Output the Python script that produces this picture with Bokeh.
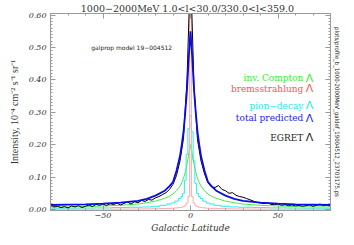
import math
from bokeh.plotting import figure
from bokeh.models import Range1d, LinearAxis, Label, FixedTicker, PrintfTickFormatter
from bokeh.embed import file_html
from bokeh.resources import INLINE

# ---- data -------------------------------------------------------------
model_lat = [-80, -70, -60, -50, -40, -30, -25, -20, -15, -12, -10, -8, -6, -5, -4, -3, -2, -1,
             0, 1, 2, 3, 4, 5, 6, 8, 10, 12, 15, 20, 25, 30, 40, 50, 60, 70, 80]
inv_compton = [0.008, 0.008, 0.009, 0.011, 0.013, 0.017, 0.021, 0.026, 0.034, 0.041, 0.048, 0.058,
               0.072, 0.083, 0.097, 0.115, 0.140, 0.170, 0.200, 0.170, 0.140, 0.115, 0.097, 0.083,
               0.072, 0.058, 0.048, 0.041, 0.034, 0.026, 0.021, 0.017, 0.013, 0.011, 0.009, 0.008, 0.008]
bremss = [0.0005, 0.0006, 0.0008, 0.001, 0.0012, 0.0016, 0.002, 0.0025, 0.003, 0.0035, 0.004, 0.005,
          0.006, 0.007, 0.009, 0.012, 0.020, 0.040, 0.700, 0.040, 0.020, 0.012, 0.009, 0.007,
          0.006, 0.005, 0.004, 0.0035, 0.003, 0.0025, 0.002, 0.0016, 0.0012, 0.001, 0.0008, 0.0006, 0.0005]
pion = [0.004, 0.004, 0.0045, 0.005, 0.006, 0.007, 0.008, 0.010, 0.013, 0.017, 0.020, 0.026,
        0.034, 0.040, 0.050, 0.090, 0.170, 0.250, 0.290, 0.240, 0.150, 0.080, 0.050, 0.040,
        0.034, 0.026, 0.020, 0.017, 0.013, 0.010, 0.008, 0.007, 0.006, 0.005, 0.0045, 0.004, 0.004]
total = [0.014, 0.015, 0.016, 0.018, 0.021, 0.027, 0.033, 0.043, 0.057, 0.072, 0.085, 0.120,
         0.165, 0.200, 0.240, 0.300, 0.370, 0.470, 0.550, 0.470, 0.370, 0.300, 0.240, 0.200,
         0.165, 0.120, 0.085, 0.072, 0.057, 0.043, 0.033, 0.027, 0.021, 0.018, 0.016, 0.015, 0.014]

egret_lat = list(range(-80, 81, 2))
egret = [0.012, 0.008, 0.010, 0.006, 0.009, 0.005, 0.011, 0.008, 0.012, 0.006,
         0.010, 0.014, 0.009, 0.016, 0.013, 0.017, 0.012, 0.018, 0.015, 0.020,
         0.014, 0.019, 0.023, 0.017, 0.024, 0.021, 0.028, 0.025, 0.031, 0.029,
         0.036, 0.040, 0.046, 0.052, 0.062, 0.078, 0.105, 0.150, 0.220, 0.400,
         0.750,
         0.380, 0.215, 0.150, 0.110, 0.082, 0.070, 0.068, 0.074, 0.062, 0.058,
         0.050, 0.052, 0.044, 0.040, 0.038, 0.034, 0.030, 0.026, 0.022, 0.020,
         0.018, 0.021, 0.016, 0.015, 0.017, 0.013, 0.015, 0.012, 0.014, 0.011,
         0.013, 0.010, 0.012, 0.014, 0.010, 0.013, 0.017, 0.012, 0.015, 0.011]

y_ticks = [0.0, 0.1, 0.2, 0.3, 0.4, 0.5, 0.6]
x_ticks = [-50, 0, 50]

title_text = "1000\u22122000MeV   1.0<l<30.0/330.0<l<359.0"
model_text = "galprop model 19\u2212004512"
file_text = "plots/profile_b_1000-2000MeV_galdef_19004512_23703175.ps"
legend_labels = ["inv. Compton", "bremsstrahlung", "pion\u2212decay", "total predicted", "EGRET"]
legend_colors = ["#33ee33", "#ff5555", "#22e8e8", "#2222ee", "#222222"]
legend_y = [0.405, 0.372, 0.321, 0.282, 0.222]

# ---- figure -----------------------------------------------------------
p = figure(width=346, height=237, output_backend="svg", toolbar_location=None,
           x_range=Range1d(-80, 80), y_range=Range1d(-0.003, 0.605),
           min_border_left=50, min_border_right=16, min_border_top=0, min_border_bottom=27)
p.grid.visible = False
p.outline_line_color = "#9a9a9a"
p.background_fill_color = "white"

p.title.text = title_text
p.title.align = "center"
p.title.text_font = "DejaVu Serif"
p.title.text_font_size = "9.5px"
p.title.text_font_style = "normal"
p.title.text_color = "#333333"
p.title.standoff = 0
p.title.offset = 0

axis_col = "#9a9a9a"
for ax in (p.xaxis[0], p.yaxis[0]):
    ax.axis_line_color = axis_col
    ax.major_tick_line_color = axis_col
    ax.minor_tick_line_color = axis_col
    ax.major_tick_out = 0
    ax.major_tick_in = 5
    ax.minor_tick_out = 0
    ax.minor_tick_in = 2
    ax.major_label_text_font = "DejaVu Serif"
    ax.major_label_text_font_style = "italic"
    ax.major_label_text_font_size = "8px"
    ax.major_label_text_color = "#333333"
    ax.axis_label_text_font = "Liberation Serif"
    ax.axis_label_text_font_size = "10px"
    ax.axis_label_text_color = "#333333"

p.xaxis[0].ticker = FixedTicker(ticks=x_ticks, minor_ticks=list(range(-80, 81, 10)))
p.yaxis[0].ticker = FixedTicker(ticks=y_ticks, minor_ticks=[i / 100 for i in range(0, 61)])
p.yaxis[0].formatter = PrintfTickFormatter(format="%.2f")
p.xaxis[0].axis_label = "Galactic Latitude"
p.xaxis[0].axis_label_text_font_style = "italic"
p.xaxis[0].axis_label_text_font = "DejaVu Serif"
p.xaxis[0].axis_label_text_font_size = "9px"
p.yaxis[0].axis_label = "Intensity, 10\u207b\u2074 cm\u207b\u00b2 s\u207b\u00b9 sr\u207b\u00b9"
p.yaxis[0].axis_label_text_font_style = "normal"
p.xaxis[0].major_label_standoff = 2
p.xaxis[0].axis_label_standoff = 2
p.yaxis[0].major_label_standoff = 4
p.yaxis[0].axis_label_standoff = 6

extra = {}
for loc, ticks, minors in (("above", x_ticks, list(range(-80, 81, 10))),
                           ("right", y_ticks, [i / 100 for i in range(0, 61)])):
    ax = LinearAxis(ticker=FixedTicker(ticks=ticks, minor_ticks=minors))
    ax.axis_line_color = axis_col
    ax.major_tick_line_color = axis_col
    ax.minor_tick_line_color = axis_col
    ax.major_tick_out = 0
    ax.major_tick_in = 5
    ax.minor_tick_out = 0
    ax.minor_tick_in = 2
    ax.major_label_overrides = {t: "" for t in ticks}
    ax.major_label_text_font_size = "1px"
    ax.major_label_standoff = 0
    p.add_layout(ax, loc)
    extra[loc] = ax

right_ax = extra["right"]
right_ax.axis_label = file_text
right_ax.axis_label_text_font = "DejaVu Sans Condensed"
right_ax.axis_label_text_font_size = "6px"
right_ax.axis_label_text_font_style = "normal"
right_ax.axis_label_text_color = "#222222"
right_ax.axis_label_standoff = 3
right_ax.axis_label_orientation = "vertical"

# ---- curves -----------------------------------------------------------
p.line(model_lat, inv_compton, line_color="#44ee44", line_width=1)
p.step(model_lat, pion, line_color="#22eeee", line_width=1, mode="center")
p.step(model_lat, bremss, line_color="#ffaaaa", line_width=1, mode="center")
p.line(egret_lat, egret, line_color="black", line_width=1)
p.line(model_lat, total, line_color="#0a0aee", line_width=1.8)

# ---- texts ------------------------------------------------------------
p.add_layout(Label(x=-10.5, y=0.5, text=model_text, text_align="right", text_baseline="middle",
                   text_font="DejaVu Sans", text_font_size="6px", text_color="#222222"))
for lab, col, yy in zip(legend_labels, legend_colors, legend_y):
    p.add_layout(Label(x=64.5, y=yy, text=lab, text_align="right", text_baseline="middle",
                       text_font="DejaVu Serif", text_font_size="9px", text_color=col))
    p.add_layout(Label(x=68, y=yy, text="\u039b", text_align="center", text_baseline="middle",
                       text_font="DejaVu Sans", text_font_size="11px", text_color=col))

open("out.html", "w").write(file_html(p, INLINE))
